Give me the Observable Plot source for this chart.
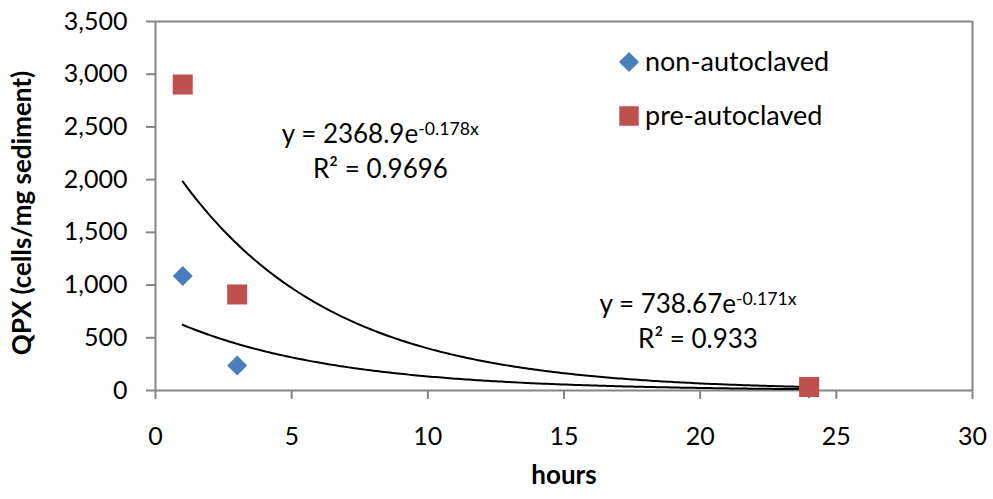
<!DOCTYPE html>
<html>
<head>
<meta charset="utf-8">
<script src="https://cdn.jsdelivr.net/npm/d3@7"></script>
<script src="https://cdn.jsdelivr.net/npm/@observablehq/plot@0.6"></script>
<style>
  html, body { margin: 0; padding: 0; background: #fff; }
  #chart { position: relative; width: 993px; height: 499px; }
  #chart svg { display: block; font-family: Lato, "Open Sans", sans-serif; }
</style>
</head>
<body>
<div id="chart"></div>
<script>
// Sampling times (hours) and QPX counts (cells/mg sediment)
const hours = [1, 3, 24];
const nonAutoclaved = [1085, 237, 18];
const preAutoclaved = [2902, 911, 33];

// Axis ticks
const xTicks = [0, 5, 10, 15, 20, 25, 30];
const yTicks = [0, 500, 1000, 1500, 2000, 2500, 3000, 3500];

// Exponential trendlines y = a·e^(k·x)
const fitNames = ["pre-autoclaved", "non-autoclaved"];
const fitA = [2368.9, 738.67];
const fitAText = ["2368.9", "738.67"];
const fitKText = ["-0.178x", "-0.171x"];
const fitK = [-0.178, -0.171];
const fitR2 = ["0.9696", "0.933"];
const fitRange = [1, 24];

const seriesNames = ["non-autoclaved", "pre-autoclaved"];

// Styling
const BLUE = "#4a7ebb";
const RED = "#c0504d";
const GRAY = "#868686";
const FONT = 25;

const points = [
  ...hours.map((h, i) => ({series: seriesNames[0], hours: h, value: nonAutoclaved[i]})),
  ...hours.map((h, i) => ({series: seriesNames[1], hours: h, value: preAutoclaved[i]}))
];

// Evaluate each fitted curve along the span of the sampled hours
const curves = [];
fitNames.forEach((name, j) => {
  const n = 230;
  for (let s = 0; s <= n; s++) {
    const x = fitRange[0] + (fitRange[1] - fitRange[0]) * s / n;
    curves.push({fit: name, hours: x, value: fitA[j] * Math.exp(fitK[j] * x)});
  }
});

const chart = Plot.plot({
  width: 993,
  height: 499,
  marginLeft: 155,
  marginRight: 21,
  marginTop: 21,
  marginBottom: 109,
  style: {fontFamily: "Lato, 'Open Sans', sans-serif", background: "#fff", overflow: "visible"},
  x: {domain: [0, 30]},
  y: {domain: [0, 3500]},
  marks: [
    // plot-area border (top and right)
    Plot.ruleY([3500], {stroke: GRAY, strokeWidth: 2}),
    Plot.ruleX([30], {stroke: GRAY, strokeWidth: 2}),
    Plot.axisY({
      ticks: yTicks, tickFormat: d3.format(","), tickSize: 9, tickPadding: 19,
      fontSize: FONT, stroke: GRAY, strokeWidth: 2, fill: "#000", label: null
    }),
    Plot.axisX({
      ticks: xTicks, tickFormat: d => String(d), tickSize: 9, tickPadding: 28,
      fontSize: FONT, stroke: GRAY, strokeWidth: 2, fill: "#000", label: null
    }),
    Plot.ruleX([0], {stroke: GRAY, strokeWidth: 2}),
    Plot.ruleY([0], {stroke: GRAY, strokeWidth: 2}),
    // axis titles
    Plot.text(["hours"], {frameAnchor: "bottom", dy: 93, fontSize: 26, fontWeight: "bold", fill: "#000"}),
    Plot.text(["QPX (cells/mg sediment)"], {
      frameAnchor: "left", textAnchor: "middle", rotate: -90, dx: -133, dy: 7,
      fontSize: 26, fontWeight: "bold", fill: "#000"
    }),
    // trendlines
    Plot.line(curves, {x: "hours", y: "value", z: "fit", stroke: "#000", strokeWidth: 2}),
    // observations
    Plot.dot(points.filter(d => d.series === seriesNames[0]), {
      x: "hours", y: "value", symbol: "diamond2", r: 9, fill: BLUE, stroke: "none"
    }),
    Plot.dot(points.filter(d => d.series === seriesNames[1]), {
      x: "hours", y: "value", symbol: "square", r: 11.3, fill: RED, stroke: "none"
    })
  ]
});

document.getElementById("chart").appendChild(chart);

// Trendline equations, anchored in data space
const sx = chart.scale("x"), sy = chart.scale("y");
const labelAt = [
  {x1: 8.27, y1: 2343, x2: 8.28, y2: 2011},
  {x1: 19.94, y1: 730, x2: 19.94, y2: 398}
];
const svg = d3.select(chart);
const EQ = 26;
const g = svg.append("g").attr("font-size", EQ).attr("fill", "#000").attr("text-anchor", "middle");
fitNames.forEach((name, j) => {
  const p = labelAt[j];
  const t1 = g.append("text").attr("x", sx.apply(p.x1)).attr("y", sy.apply(p.y1));
  t1.append("tspan").text(`y = ${fitAText[j]}e`);
  t1.append("tspan").attr("font-size", EQ * 0.68).attr("dy", -8).text(fitKText[j]);
  g.append("text").attr("x", sx.apply(p.x2)).attr("y", sy.apply(p.y2)).text(`R² = ${fitR2[j]}`);
});

// Legend
const legend = svg.append("g").attr("font-size", 27).attr("fill", "#000").attr("text-anchor", "start");
const legendItems = [
  {name: seriesNames[0], symbol: d3.symbolDiamond2, size: 255, color: BLUE, cy: 62},
  {name: seriesNames[1], symbol: d3.symbolSquare, size: 380, color: RED, cy: 116}
];
legendItems.forEach(it => {
  legend.append("path")
    .attr("transform", `translate(629,${it.cy})`)
    .attr("d", d3.symbol(it.symbol, it.size)())
    .attr("fill", it.color);
  legend.append("text").attr("x", 645).attr("y", it.cy).attr("dy", "0.35em").text(it.name);
});
</script>
</body>
</html>
